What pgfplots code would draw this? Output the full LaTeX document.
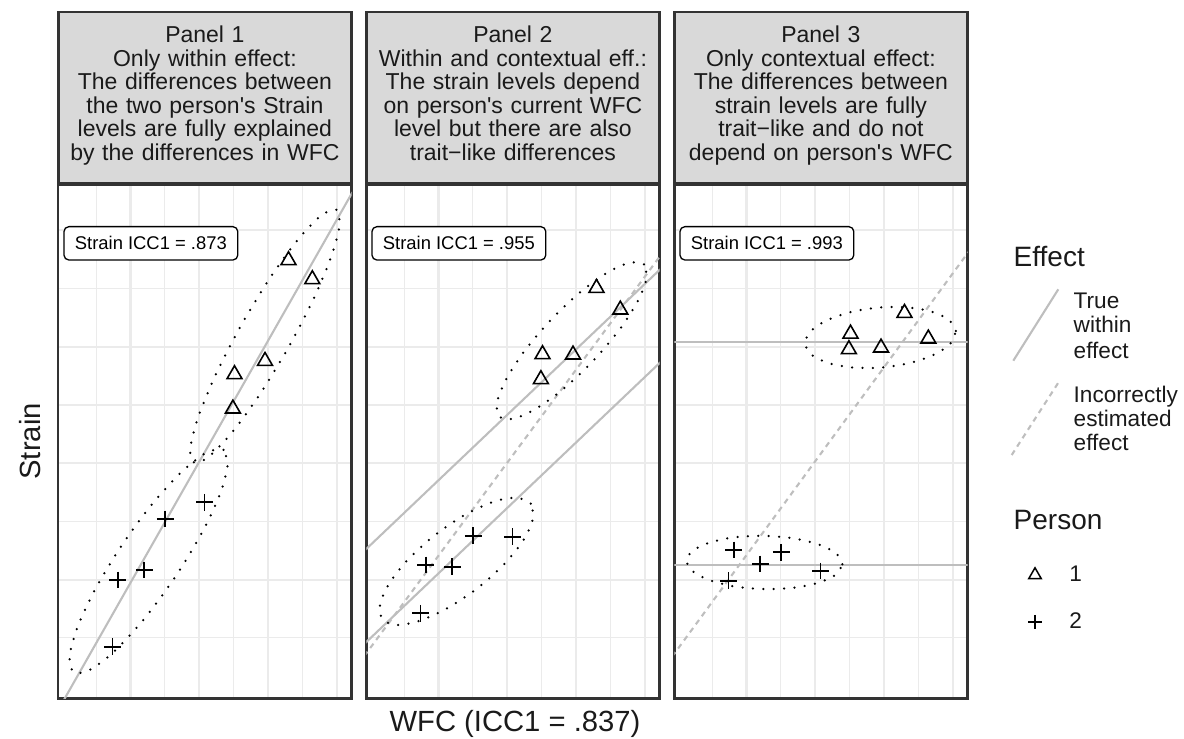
\documentclass[border=0pt]{standalone}
\usepackage{fontspec}
\setmainfont{Liberation Sans}
\usepackage{pgfplots}
\pgfplotsset{compat=1.18}
\definecolor{stripgray}{HTML}{D9D9D9}
\definecolor{framegray}{HTML}{333333}
\definecolor{gridgray}{HTML}{EBEBEB}
\definecolor{linegray}{HTML}{BEBEBE}
\definecolor{textgray}{HTML}{1A1A1A}
\newcommand{\lastdepth}{\rule[-4.5pt]{0pt}{4.5pt}}
\pgfplotsset{
  panel/.style={
    scale only axis, width=146.6pt, height=256.9pt, anchor=south west,
    xmin=-0.096, xmax=8.420, ymin=-0.040, ymax=8.789,
    xtick={2,4,6,8}, ytick={2,4,6,8},
    minor xtick={1,3,5,7}, minor ytick={1,3,5,7},
    xticklabels={}, yticklabels={},
    major tick length=0pt, minor tick length=0pt,
    grid=both,
    major grid style={line width=1.07pt, color=gridgray},
    minor grid style={line width=0.53pt, color=gridgray},
    axis line style={line width=1.2pt, color=framegray},
    clip mode=individual,
    every axis title/.style={at={(0.5,1)}, anchor=south, fill=stripgray,
      draw=framegray, line width=1.2pt, minimum width=146.6pt,
      minimum height=85.6pt, text width=146pt, align=center, inner sep=0pt,
      text=textgray, font=\fontsize{11.5pt}{11.74pt}\selectfont},
  },
  within/.style={linegray, line width=1.05pt},
  incorrect/.style={linegray, line width=1.05pt, dash pattern=on 2.7pt off 2.3pt},
  ell/.style={black, line width=1.25pt, line cap=round, dash pattern=on 0pt off 5.2pt, smooth},
  tri/.style={black, only marks, mark=triangle, mark size=4.3pt, mark options={line width=0.8pt, black}},
  crs/.style={black, only marks, mark=+, mark size=4.2pt, mark options={line width=0.9pt, black}},
}
\tikzset{iccbox/.style={draw=black, line width=0.65pt, rounded corners=2.5pt, fill=white,
  inner xsep=5.5pt, inner ysep=0pt, minimum height=16.7pt, anchor=west,
  font=\fontsize{9.2pt}{11pt}\selectfont}}
\begin{document}
\begin{tikzpicture}
\path[use as bounding box] (0pt,0pt) rectangle (592pt,-369.5pt);

% ---------------- Panel 1
\begin{axis}[panel, at={(29.15pt,-349.15pt)},
  title={Panel 1\\Only within effect:\\The differences between\\the two person\textquotesingle s Strain\\levels are fully explained\\by the differences in WFC\lastdepth}]
\addplot[within] coordinates {(-0.5,-0.658) (9,9.232)};
\addplot[ell] coordinates {(7.981,8.354) (7.572,8.273) (6.909,7.875) (6.094,7.219) (5.250,6.406) (4.507,5.559) (3.977,4.808) (3.740,4.266) (3.834,4.017) (4.243,4.098) (4.906,4.497) (5.721,5.152) (6.565,5.966) (7.309,6.812) (7.839,7.563) (8.075,8.105) (7.981,8.354)};
\addplot[ell] coordinates {(4.703,4.228) (4.252,4.197) (3.538,3.880) (2.670,3.325) (1.781,2.618) (1.004,1.864) (0.460,1.181) (0.231,0.670) (0.351,0.411) (0.802,0.442) (1.516,0.759) (2.384,1.314) (3.273,2.022) (4.049,2.775) (4.594,3.459) (4.823,3.969) (4.703,4.228)};
\addplot[tri] coordinates {(6.590,7.486) (7.282,7.159) (5.908,5.755) (5.022,5.527) (4.975,4.936)};
\addplot[crs] coordinates {(4.153,3.328) (3.012,3.041) (2.399,2.165) (1.632,1.993) (1.478,0.847)};
\node[iccbox] at (axis cs:0.049,7.778) {Strain ICC1 = .873};
\end{axis}

% ---------------- Panel 2
\begin{axis}[panel, at={(183.15pt,-349.15pt)},
  title={Panel 2\\Within and contextual eff.:\\The strain levels depend\\on person\textquotesingle s current WFC\\level but there are also\\trait−like differences\lastdepth}]
\addplot[within] coordinates {(-0.5,2.299) (9,7.647)};
\addplot[within] coordinates {(-0.5,0.699) (9,6.047)};
\addplot[incorrect] coordinates {(-0.5,0.41) (9,8.01)};
\addplot[ell] coordinates {(7.967,7.417) (7.570,7.450) (6.914,7.279) (6.100,6.929) (5.251,6.454) (4.496,5.926) (3.951,5.425) (3.698,5.028) (3.776,4.796) (4.173,4.763) (4.828,4.934) (5.643,5.284) (6.492,5.759) (7.247,6.287) (7.792,6.788) (8.045,7.185) (7.967,7.417)};
\addplot[ell] coordinates {(4.681,3.307) (4.285,3.407) (3.621,3.342) (2.791,3.120) (1.920,2.775) (1.142,2.361) (0.575,1.939) (0.304,1.574) (0.373,1.322) (0.769,1.221) (1.432,1.287) (2.263,1.509) (3.134,1.853) (3.912,2.268) (4.479,2.690) (4.749,3.055) (4.681,3.307)};
\addplot[tri] coordinates {(6.590,7.010) (7.282,6.637) (5.908,5.864) (5.022,5.870) (4.975,5.441)};
\addplot[crs] coordinates {(3.012,2.754) (4.153,2.737) (1.632,2.251) (2.399,2.222) (1.478,1.421)};
\node[iccbox] at (axis cs:0.049,7.778) {Strain ICC1 = .955};
\end{axis}

% ---------------- Panel 3
\begin{axis}[panel, at={(337.15pt,-349.15pt)},
  title={Panel 3\\Only contextual effect:\\The differences between\\strain levels are fully\\trait−like and do not\\depend on person\textquotesingle s WFC\lastdepth}]
\addplot[within] coordinates {(-0.5,6.088) (9,6.088)};
\addplot[within] coordinates {(-0.5,2.251) (9,2.251)};
\addplot[incorrect] coordinates {(-0.5,0.40) (9,8.076)};
\addplot[ell] coordinates {(8.081,6.273) (7.885,6.461) (7.386,6.603) (6.660,6.678) (5.817,6.673) (4.986,6.591) (4.293,6.443) (3.843,6.252) (3.706,6.047) (3.901,5.859) (4.400,5.717) (5.126,5.642) (5.969,5.646) (6.800,5.729) (7.493,5.877) (7.943,6.068) (8.081,6.273)};
\addplot[ell] coordinates {(4.786,2.263) (4.621,2.441) (4.136,2.595) (3.406,2.704) (2.542,2.751) (1.675,2.728) (0.937,2.638) (0.441,2.497) (0.262,2.324) (0.427,2.147) (0.912,1.992) (1.642,1.883) (2.507,1.837) (3.373,1.860) (4.111,1.949) (4.607,2.091) (4.786,2.263)};
\addplot[tri] coordinates {(6.590,6.580) (7.282,6.139) (5.022,6.224) (5.908,5.984) (4.975,5.956)};
\addplot[crs] coordinates {(1.632,2.509) (3.012,2.469) (2.399,2.268) (4.153,2.148) (1.478,1.981)};
\node[iccbox] at (axis cs:0.049,7.778) {Strain ICC1 = .993};
\end{axis}

% ---------------- Legend (keys drawn in a hidden axis, pixel units)
\begin{axis}[scale only axis, hide axis, clip=false, anchor=south west,
  at={(500pt,-350pt)}, width=92pt, height=235pt,
  xmin=1000, xmax=1184, ymin=-700, ymax=-230]
\addplot[within] coordinates {(1013.3,-360.7) (1058.3,-289.3)};
\addplot[incorrect] coordinates {(1011.7,-455) (1058.3,-382.7)};
\addplot[black, only marks, mark=triangle, mark size=3.6pt, mark options={line width=0.75pt, black}] coordinates {(1035,-575)};
\addplot[black, only marks, mark=+, mark size=3.4pt, mark options={line width=0.8pt, black}] coordinates {(1035,-621.7)};
\begin{scope}[every node/.style={anchor=base west, inner sep=0pt, text=textgray, font=\fontsize{11.3pt}{13pt}\selectfont}]
\node[font=\fontsize{14pt}{16pt}\selectfont] at (axis cs:1013.3,-266.7) {Effect};
\node at (axis cs:1073.3,-308.3) {True};
\node at (axis cs:1073.3,-332.7) {within};
\node at (axis cs:1073.3,-358.3) {effect};
\node at (axis cs:1073.3,-402.3) {Incorrectly};
\node at (axis cs:1073.3,-426.5) {estimated};
\node at (axis cs:1073.3,-450.5) {effect};
\node[font=\fontsize{14pt}{16pt}\selectfont] at (axis cs:1013.3,-529) {Person};
\node at (axis cs:1069,-581.7) {1};
\node at (axis cs:1069,-628.3) {2};
\end{scope}
\end{axis}

% ---------------- Axis titles
\node[anchor=base, inner sep=0pt, text=textgray, font=\fontsize{14.6pt}{17pt}\selectfont] at (257.5pt,-365.5pt) {WFC (ICC1 = .837)};
\node[anchor=base, rotate=90, inner sep=0pt, text=textgray, font=\fontsize{14.6pt}{17pt}\selectfont] at (20pt,-220.7pt) {Strain};
\end{tikzpicture}
\end{document}
